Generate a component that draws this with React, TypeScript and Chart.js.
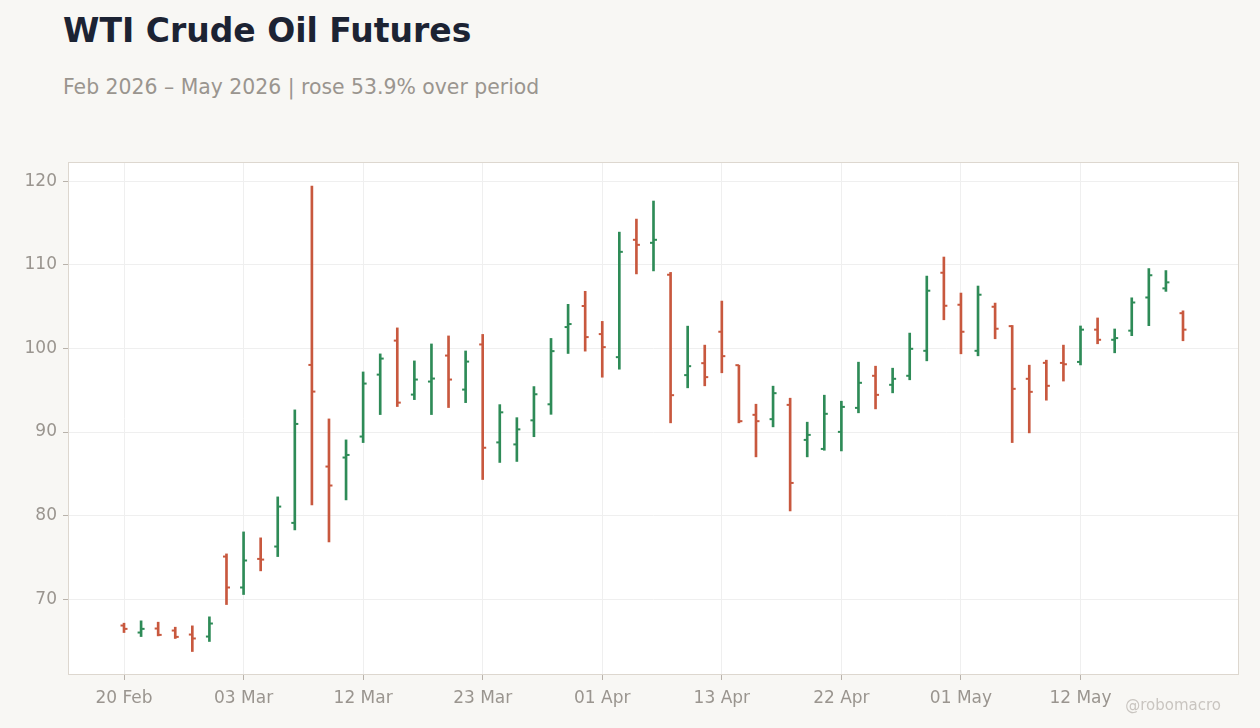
import React, { useEffect, useRef } from "react";
import { Chart, registerables } from "chart.js";

Chart.register(...registerables);

const dates = [
  "20 Feb", "23 Feb", "24 Feb", "25 Feb", "26 Feb", "27 Feb",
  "02 Mar", "03 Mar", "04 Mar", "05 Mar", "06 Mar", "09 Mar", "10 Mar", "11 Mar", "12 Mar",
  "13 Mar", "16 Mar", "17 Mar", "18 Mar", "19 Mar", "20 Mar", "23 Mar",
  "24 Mar", "25 Mar", "26 Mar", "27 Mar", "30 Mar", "31 Mar", "01 Apr",
  "02 Apr", "06 Apr", "07 Apr", "08 Apr", "09 Apr", "10 Apr", "13 Apr",
  "14 Apr", "15 Apr", "16 Apr", "17 Apr", "20 Apr", "21 Apr", "22 Apr",
  "23 Apr", "24 Apr", "27 Apr", "28 Apr", "29 Apr", "30 Apr", "01 May",
  "04 May", "05 May", "06 May", "07 May", "08 May", "11 May", "12 May",
  "13 May", "14 May", "15 May", "18 May", "19 May", "20 May",
];

const opens = [
  66.85, 66.01, 66.49, 66.25, 65.77, 65.53, 75.1, 71.4, 74.82, 76.3,
  79.13, 98.03, 85.87, 86.95, 89.46, 96.87, 100.94, 94.48, 96.04, 99.15,
  95.08, 100.48, 88.76, 88.52, 91.4, 93.32, 102.56, 105.08, 101.72, 98.96,
  113.0, 112.64, 108.82, 96.81, 98.24, 102.0, 98.0, 92.06, 91.54, 93.25,
  89.06, 87.98, 90.02, 92.89, 96.73, 95.65, 96.73, 99.72, 109.06, 105.23,
  99.72, 104.99, 102.67, 96.37, 98.28, 98.27, 98.39, 102.25, 101.04, 102.13,
  106.1, 107.19, 104.22,
];

const highs = [
  67.13, 67.41, 67.25, 66.65, 66.81, 67.89, 75.42, 78.05, 77.34, 82.24,
  92.65, 119.44, 91.57, 89.06, 97.19, 99.35, 102.46, 98.51, 100.54, 101.5,
  99.7, 101.68, 93.28, 91.72, 95.44, 101.2, 105.28, 106.84, 103.24, 113.92,
  115.48, 117.64, 109.1, 102.67, 100.4, 105.67, 98.0, 93.33, 95.49, 94.05,
  91.18, 94.41, 93.69, 98.36, 97.88, 97.64, 101.84, 108.66, 110.94, 106.63,
  107.47, 105.43, 102.75, 98.0, 98.6, 100.4, 102.69, 103.65, 102.33, 106.06,
  109.56, 109.32, 104.5,
];

const lows = [
  66.01, 65.53, 65.61, 65.3, 63.74, 64.94, 69.36, 70.56, 73.39, 75.1,
  78.29, 81.28, 76.85, 81.88, 88.74, 92.09, 93.05, 93.88, 92.09, 92.93,
  93.52, 84.32, 86.36, 86.48, 89.44, 92.12, 99.4, 99.68, 96.56, 97.52,
  108.92, 109.28, 91.1, 95.29, 95.53, 97.09, 91.1, 87.03, 90.62, 80.56,
  87.03, 87.82, 87.74, 92.3, 92.77, 94.69, 96.25, 98.52, 103.43, 99.36,
  99.12, 101.16, 88.74, 89.9, 93.81, 96.1, 98.03, 100.56, 99.48, 101.53,
  102.73, 106.83, 100.92,
];

const closes = [
  66.45, 66.45, 65.73, 65.49, 65.3, 67.09, 71.4, 74.63, 74.74, 81.08,
  90.97, 94.84, 83.6, 87.26, 95.8, 98.79, 93.52, 96.28, 96.4, 96.28,
  98.43, 88.12, 92.36, 90.32, 94.52, 99.68, 102.92, 101.36, 100.16, 111.56,
  112.4, 113.0, 94.41, 97.88, 96.57, 99.08, 91.3, 91.3, 94.65, 83.91,
  89.66, 92.18, 93.01, 95.89, 94.45, 96.37, 99.96, 106.91, 105.11, 102.0,
  106.43, 102.36, 95.17, 94.81, 95.53, 98.11, 102.25, 101.04, 101.24, 105.5,
  108.76, 107.91, 102.25,
];

const xTickIndices = [0, 7, 14, 21, 28, 35, 42, 49, 56];
const yTickValues = [70, 80, 90, 100, 110, 120];

const UP = "#2e8b57";
const DOWN = "#c8583e";
const FONT = "'DejaVu Sans', sans-serif";

const plotFrame = {
  id: "plotFrame",
  beforeDraw(chart: any) {
    const { ctx, chartArea } = chart;
    ctx.save();
    ctx.fillStyle = "#ffffff";
    ctx.fillRect(chartArea.left, chartArea.top, chartArea.right - chartArea.left, chartArea.bottom - chartArea.top);
    ctx.restore();
  },
  afterDraw(chart: any) {
    const { ctx, chartArea } = chart;
    ctx.save();
    ctx.strokeStyle = "#ddd7cf";
    ctx.lineWidth = 1;
    ctx.strokeRect(
      Math.round(chartArea.left) + 0.5,
      Math.round(chartArea.top) + 0.5,
      Math.round(chartArea.right - chartArea.left) - 1,
      Math.round(chartArea.bottom - chartArea.top) - 1
    );
    ctx.restore();
  },
};

export default function App() {
  const ref = useRef<HTMLCanvasElement>(null);

  useEffect(() => {
    document.body.style.margin = "0";
    Chart.defaults.font.family = FONT;
    const colors = opens.map((o, i) => (closes[i] >= o ? UP : DOWN));

    const chart = new Chart(ref.current as HTMLCanvasElement, {
      type: "bar",
      data: {
        datasets: [
          {
            type: "bar",
            data: dates.map((_, i) => ({ x: i, y: [lows[i], highs[i]] })) as any,
            backgroundColor: colors,
            barThickness: 2,
            borderWidth: 0,
            grouped: false,
          } as any,
          {
            type: "line",
            data: dates.map((_, i) => ({ x: i, y: opens[i] })),
            showLine: false,
            pointStyle: "dash",
            pointRadius: 3.5,
            pointBorderWidth: 2,
            pointBorderColor: colors,
            pointBackgroundColor: colors,
            pointRotation: 180,
          } as any,
          {
            type: "line",
            data: dates.map((_, i) => ({ x: i, y: closes[i] })),
            showLine: false,
            pointStyle: "dash",
            pointRadius: 3.5,
            pointBorderWidth: 2,
            pointBorderColor: colors,
            pointBackgroundColor: colors,
            pointRotation: 0,
          } as any,
        ],
      },
      options: {
        animation: false,
        responsive: false,
        devicePixelRatio: 1,
        events: [],
        layout: { padding: { top: 162, right: 21, bottom: 0, left: 0 } },
        plugins: { legend: { display: false }, tooltip: { enabled: false }, title: { display: false } },
        scales: {
          x: {
            type: "linear",
            offset: false,
            min: -3.279,
            max: 65.279,
            afterBuildTicks: (s: any) => {
              s.ticks = xTickIndices.map((v) => ({ value: v }));
            },
            afterFit: (s: any) => {
              s.height = 53;
            },
            ticks: {
              callback: (v: any) => dates[Number(v)] ?? "",
              color: "#9a958f",
              font: { size: 17, family: FONT },
              padding: 8,
              maxRotation: 0,
              autoSkip: false,
            },
            grid: { offset: false, color: "#efefef", tickColor: "#b8b2ab", tickLength: 5, lineWidth: 1 },
            border: { display: false },
          } as any,
          y: {
            type: "linear",
            min: 60.93,
            max: 122.31,
            afterBuildTicks: (s: any) => {
              s.ticks = yTickValues.map((v) => ({ value: v }));
            },
            afterFit: (s: any) => {
              s.width = 68;
            },
            ticks: {
              color: "#9a958f",
              font: { size: 17, family: FONT },
              padding: 6,
            },
            grid: { color: "#efefef", tickColor: "#b8b2ab", tickLength: 5, lineWidth: 1 },
            border: { display: false },
          } as any,
        },
      },
      plugins: [plotFrame],
    });

    return () => chart.destroy();
  }, []);

  return (
    <div
      style={{
        position: "fixed",
        left: 0,
        top: 0,
        width: 1260,
        height: 728,
        background: "#f8f7f4",
        fontFamily: FONT,
        overflow: "hidden",
      }}
    >
      <div
        style={{
          position: "absolute",
          left: 63,
          top: 14,
          fontSize: 33,
          lineHeight: 1,
          fontWeight: "bold",
          color: "#1c2333",
          whiteSpace: "nowrap",
        }}
      >
        WTI Crude Oil Futures
      </div>
      <div
        style={{
          position: "absolute",
          left: 63,
          top: 77,
          fontSize: 20.4,
          lineHeight: 1,
          color: "#9a958f",
          whiteSpace: "nowrap",
        }}
      >
        Feb 2026 – May 2026 | rose 53.9% over period
      </div>
      <canvas ref={ref} width={1260} height={728} style={{ position: "absolute", left: 0, top: 0 }} />
      <div
        style={{
          position: "absolute",
          right: 39,
          top: 698,
          fontSize: 15,
          lineHeight: 1,
          color: "#c9c5c0",
          whiteSpace: "nowrap",
        }}
      >
        @robomacro
      </div>
    </div>
  );
}
